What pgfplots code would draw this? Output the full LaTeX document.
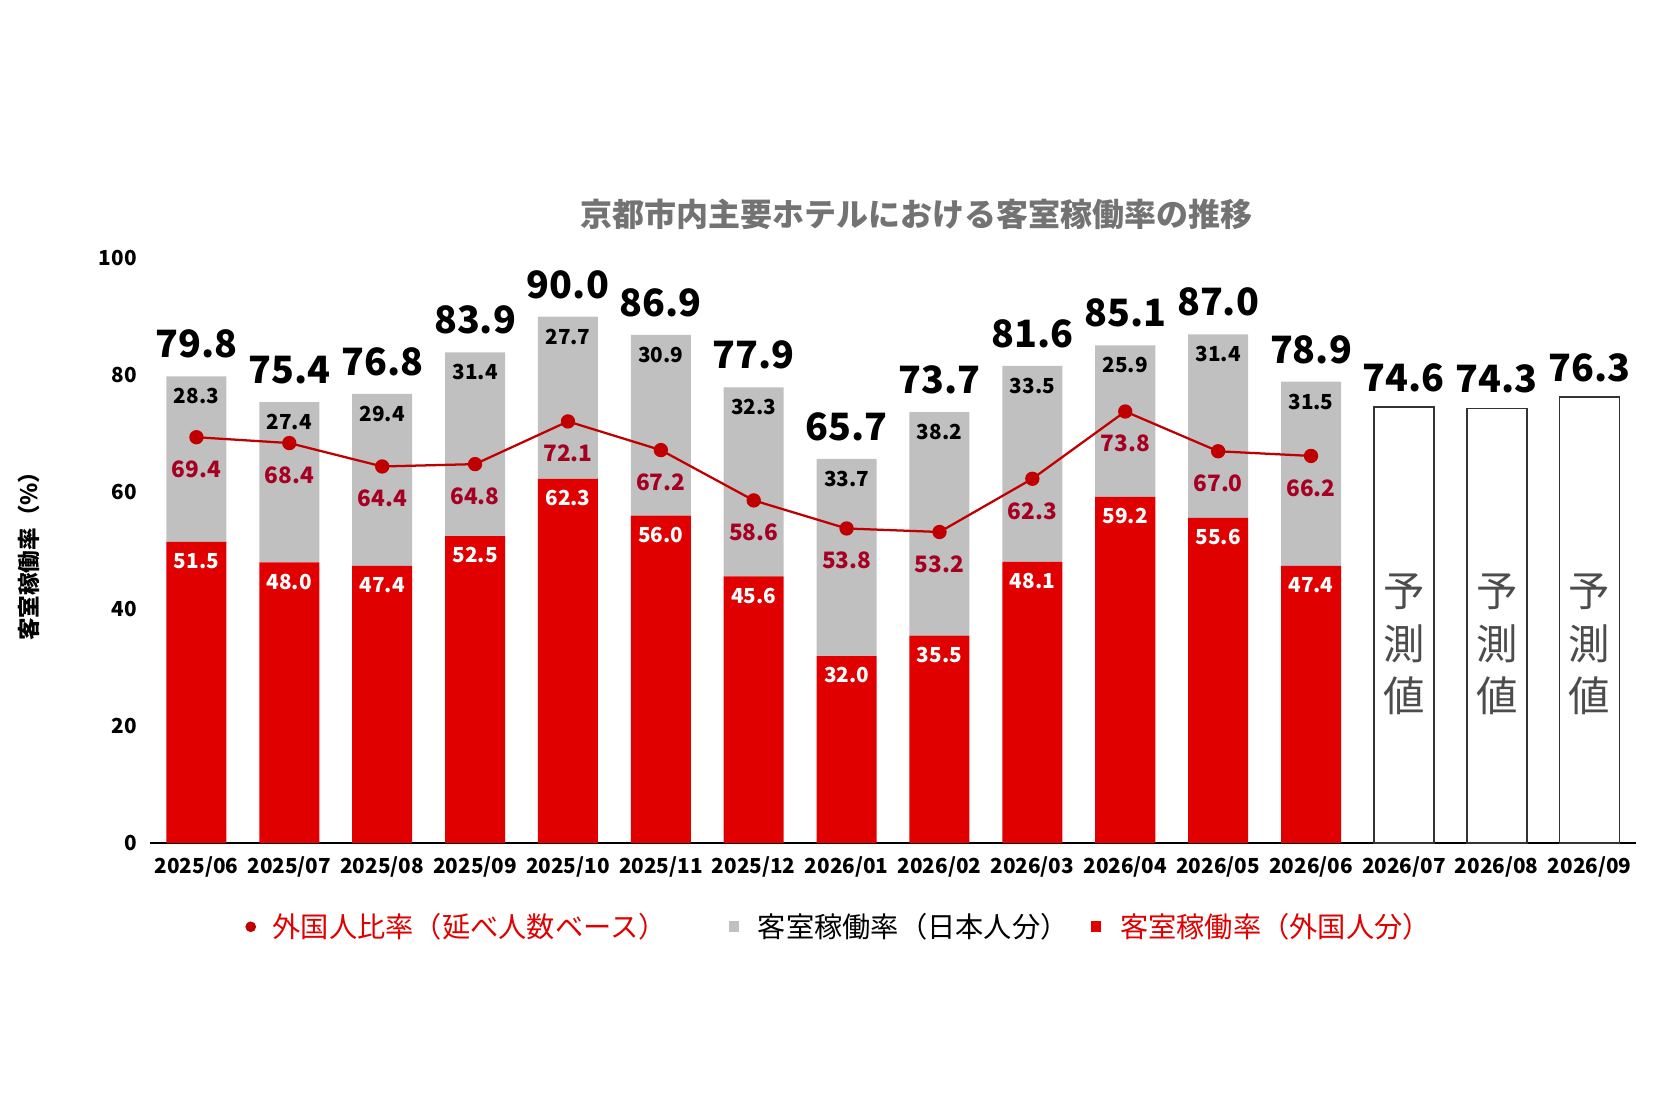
\documentclass[border=0pt]{standalone}
\usepackage{pgfplots}
\pgfplotsset{compat=1.18}
\usepackage{fontspec}
\setmainfont{Noto Sans CJK JP}
\definecolor{myred}{HTML}{E00000}
\definecolor{mygray}{HTML}{C0C0C0}
\definecolor{linered}{HTML}{C00000}
\definecolor{lblred}{HTML}{A50021}
\begin{document}
\begin{tikzpicture}[x=1cm,y=1cm]
\useasboundingbox (0,0) rectangle (15.68,10.45);
\pgfplotsset{base/.style={
  at={(1.40cm,2.58cm)}, anchor=south west, scale only axis,
  width=13.87cm, height=5.46cm, xmin=-0.5, xmax=15.5, ymin=0, ymax=100}}
\begin{axis}[base, ybar stacked, bar width=0.56cm,
  axis y line=none, axis x line*=bottom, x axis line style={black},
  ymajorgrids, grid style={gray!25}, ytick={0,20,...,100},
  xtick={0,...,15}, major tick length=0pt,
  xticklabels={2025/06,2025/07,2025/08,2025/09,2025/10,2025/11,2025/12,2026/01,2026/02,2026/03,2026/04,2026/05,2026/06,2026/07,2026/08,2026/09},
  xticklabel style={font=\bfseries\fontsize{5.5}{6}\selectfont},
  ]
\addplot[fill=myred, draw=none] coordinates {(0,51.5)(1,48.0)(2,47.4)(3,52.5)(4,62.3)(5,56.0)(6,45.6)(7,32.0)(8,35.5)(9,48.1)(10,59.2)(11,55.6)(12,47.4)};
\addplot[fill=mygray, draw=none] coordinates {(0,28.3)(1,27.4)(2,29.4)(3,31.4)(4,27.7)(5,30.9)(6,32.3)(7,33.7)(8,38.2)(9,33.5)(10,25.9)(11,31.4)(12,31.5)};
\end{axis}
\begin{axis}[base, axis lines=none, ybar, bar width=0.56cm]
\addplot[fill=white, draw=black!80, line width=0.4pt] coordinates {(13,74.6)(14,74.3)(15,76.3)};
\end{axis}
\begin{axis}[base, axis y line=left, axis x line=none, y axis line style={draw=none},
  ytick={0,20,...,100}, major tick length=0pt,
  yticklabel style={font=\bfseries\fontsize{5.5}{6}\selectfont, /pgf/number format/assume math mode=true},
  ylabel={\bfseries\fontsize{6}{7}\selectfont 客室稼働率（\%）}, ylabel style={at={(axis description cs:-0.065,0.5)}},
  nodes near coords, point meta=explicit symbolic]
\addplot[linered, line width=0.6pt, mark=*, mark size=1.6pt, nodes near coords={}] coordinates {(0,69.4)(1,68.4)(2,64.4)(3,64.8)(4,72.1)(5,67.2)(6,58.6)(7,53.8)(8,53.2)(9,62.3)(10,73.8)(11,67.0)(12,66.2)};
% line labels
\addplot[draw=none, mark=none, nodes near coords style={anchor=center, text=lblred, font=\bfseries\fontsize{6}{7}\selectfont}] table[meta=l] {
x y l
0 63.9 69.4
1 62.9 68.4
2 58.9 64.4
3 59.3 64.8
4 66.6 72.1
5 61.7 67.2
6 53.1 58.6
7 48.3 53.8
8 47.7 53.2
9 56.8 62.3
10 68.3 73.8
11 61.5 67.0
12 60.7 66.2
};
% red labels
\addplot[draw=none, mark=none, nodes near coords style={anchor=center, text=white, font=\bfseries\fontsize{5.5}{6}\selectfont}] table[meta=l] {
x y l
0 48.2 51.5
1 44.7 48.0
2 44.1 47.4
3 49.2 52.5
4 59.0 62.3
5 52.7 56.0
6 42.3 45.6
7 28.7 32.0
8 32.2 35.5
9 44.8 48.1
10 55.9 59.2
11 52.3 55.6
12 44.1 47.4
};
% gray labels
\addplot[draw=none, mark=none, nodes near coords style={anchor=center, text=black, font=\bfseries\fontsize{5.5}{6}\selectfont}] table[meta=l] {
x y l
0 76.4 28.3
1 72.0 27.4
2 73.4 29.4
3 80.5 31.4
4 86.6 27.7
5 83.5 30.9
6 74.5 32.3
7 62.3 33.7
8 70.3 38.2
9 78.2 33.5
10 81.7 25.9
11 83.6 31.4
12 75.5 31.5
};
% totals
\addplot[draw=none, mark=none, nodes near coords style={anchor=center, text=black, font=\bfseries\fontsize{10}{11}\selectfont}] table[meta=l] {
x y l
0 85.3 79.8
1 80.9 75.4
2 82.3 76.8
3 89.4 83.9
4 95.5 90.0
5 92.4 86.9
6 83.4 77.9
7 71.2 65.7
8 79.2 73.7
9 87.1 81.6
10 90.6 85.1
11 92.5 87.0
12 84.4 78.9
13 79.6 74.6
14 79.3 74.3
15 81.3 76.3
};
% forecast text
\addplot[draw=none, mark=none, nodes near coords style={anchor=center, text=black!70, align=center, font=\fontsize{11}{14}\selectfont}] table[meta=l] {
x y l
13 34 {予\\測\\値}
14 34 {予\\測\\値}
15 34 {予\\測\\値}
};
\end{axis}
\node[font=\bfseries\fontsize{8.5}{10}\selectfont, text=black!55] at (8.55,8.45) {京都市内主要ホテルにおける客室稼働率の推移};
% legend
\fill[linered] (2.34,1.80) circle (0.05);
\node[anchor=west, text=myred, font=\fontsize{7.5}{9}\selectfont] at (2.42,1.80) {外国人比率（延べ人数ベース）};
\fill[mygray] (6.80,1.75) rectangle (6.90,1.85);
\node[anchor=west, text=black, font=\fontsize{7.5}{9}\selectfont] at (6.95,1.80) {客室稼働率（日本人分）};
\fill[myred] (10.18,1.75) rectangle (10.28,1.85);
\node[anchor=west, text=myred, font=\fontsize{7.5}{9}\selectfont] at (10.33,1.80) {客室稼働率（外国人分）};
\end{tikzpicture}
\end{document}
